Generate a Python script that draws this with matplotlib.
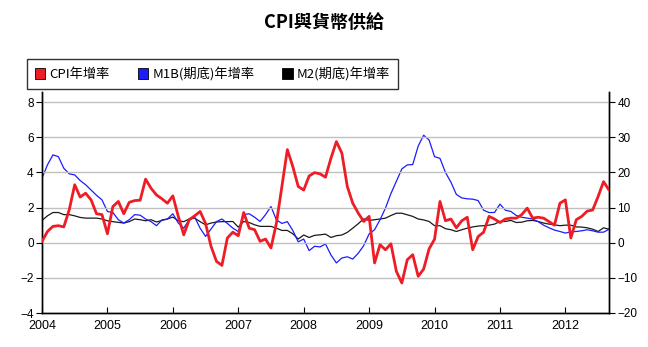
import matplotlib
matplotlib.use("Agg")
import matplotlib.pyplot as plt
from matplotlib.patches import Patch
import numpy as np

plt.rcParams['font.family'] = ['Noto Sans CJK TC', 'DejaVu Sans']

title = "CPI與貨幣供給"
series_names = ["CPI年增率", "M1B(期底)年增率", "M2(期底)年增率"]
start_year = 2004
n_months = 105  # Jan 2004 .. Sep 2012
year_ticks = list(range(2004, 2013))
left_ticks = [-4, -2, 0, 2, 4, 6, 8]
right_ticks = [-20, -10, 0, 10, 20, 30, 40]

# CPI YoY (%) — left axis
cpi = [0.07, 0.64, 0.93, 0.97, 0.9, 1.88, 3.3, 2.6, 2.82, 2.44, 1.65, 1.6,
       0.51, 2.06, 2.35, 1.65, 2.3, 2.4, 2.42, 3.62, 3.1, 2.72, 2.5, 2.25,
       2.67, 1.5, 0.45, 1.31, 1.53, 1.78, 1.1, -0.2, -1.06, -1.29, 0.27, 0.6,
       0.4, 1.72, 0.83, 0.74, 0.08, 0.21, -0.3, 1.12, 3.2, 5.3, 4.34, 3.2,
       3.0, 3.8, 3.99, 3.92, 3.73, 4.81, 5.76, 5.1, 3.2, 2.25, 1.69, 1.21,
       1.5, -1.15, -0.11, -0.4, -0.06, -1.63, -2.29, -0.97, -0.68, -1.91, -1.5, -0.35,
       0.2, 2.35, 1.25, 1.35, 0.85, 1.25, 1.45, -0.4, 0.35, 0.6, 1.5, 1.35,
       1.15, 1.35, 1.4, 1.4, 1.6, 1.97, 1.4, 1.45, 1.4, 1.2, 1.0, 2.25,
       2.44, 0.27, 1.31, 1.5, 1.8, 1.86, 2.63, 3.48, 3.0]

# M1B YoY (%) — right axis
m1b = [18.35, 22.15, 25.0, 24.5, 21.2, 19.6, 19.3, 17.7, 16.5, 15.0, 13.5, 12.2,
       8.9, 8.6, 6.55, 5.6, 6.55, 8.0, 7.85, 6.75, 6.0, 4.85, 6.5, 6.75,
       8.25, 5.6, 4.15, 6.55, 7.3, 4.15, 1.8, 3.9, 6.0, 6.75, 5.5, 4.15,
       3.2, 8.0, 8.25, 7.25, 6.05, 8.0, 10.3, 6.5, 5.5, 6.0, 3.5, 0.25,
       1.05, -2.25, -1.0, -1.2, -0.35, -3.5, -5.75, -4.35, -4.0, -4.65, -3.0, -0.85,
       2.5, 3.7, 6.55, 9.85, 14.0, 17.5, 21.0, 22.15, 22.25, 27.5, 30.6, 29.25,
       24.5, 24.0, 20.0, 17.25, 13.75, 12.75, 12.5, 12.4, 12.0, 9.25, 8.6, 8.6,
       11.0, 9.25, 8.9, 7.75, 7.25, 7.0, 6.75, 6.0, 5.0, 4.25, 3.6, 3.2,
       2.75, 3.1, 3.2, 3.4, 3.7, 3.4, 3.0, 3.0, 3.85]

# M2 YoY (%) — right axis
m2 = [6.35, 7.65, 8.6, 8.6, 8.0, 8.0, 7.65, 7.2, 7.0, 7.0, 7.0, 6.75,
      6.25, 6.0, 5.8, 5.6, 6.0, 6.75, 6.55, 6.25, 6.55, 5.9, 6.35, 6.75,
      7.3, 6.25, 6.0, 6.75, 7.0, 6.0, 5.1, 5.6, 5.9, 6.0, 6.0, 6.05,
      4.45, 6.05, 5.75, 5.1, 4.65, 4.65, 4.65, 4.15, 3.5, 3.5, 2.55, 1.05,
      2.2, 1.5, 2.1, 2.25, 2.45, 1.5, 2.0, 2.2, 2.95, 4.15, 5.4, 6.8,
      6.35, 6.55, 6.75, 7.0, 7.75, 8.4, 8.4, 7.95, 7.5, 6.75, 6.5, 6.05,
      4.85, 4.85, 4.0, 3.7, 3.2, 3.7, 4.15, 4.5, 4.75, 4.85, 5.0, 5.3,
      6.05, 6.05, 6.35, 5.75, 5.85, 6.25, 6.35, 6.05, 5.6, 5.3, 5.1, 4.85,
      5.0, 5.0, 4.5, 4.45, 4.25, 3.85, 3.2, 4.25, 3.85]

x = start_year + np.arange(n_months) / 12.0

fig = plt.figure(figsize=(6.48, 3.47), dpi=100)
ax = fig.add_axes([42/648, 1-313/347, (609-42)/648, (313-92)/347])
ax2 = ax.twinx()

red = "#ee1c25"
blue = "#1c1cff"
black = "#1a1a1a"

ax2.plot(x, m2, color=black, lw=0.9, zorder=2)
ax2.plot(x, m1b, color=blue, lw=0.9, zorder=3)
ax.set_zorder(ax2.get_zorder() + 1)
ax.patch.set_visible(False)
ax.plot(x, cpi, color=red, lw=2.0, solid_joinstyle='round', solid_capstyle='round', zorder=4)

ax.set_xlim(start_year, start_year + (n_months - 1) / 12.0)
ax.set_ylim(-4, 8.58)
ax2.set_ylim(-20, 42.9)
ax.set_yticks(left_ticks)
ax2.set_yticks(right_ticks)
ax.set_xticks(year_ticks)
ax.set_xticklabels([str(y) for y in year_ticks])

for a in (ax, ax2):
    a.spines['top'].set_visible(False)
    for s in ('left', 'right', 'bottom'):
        a.spines[s].set_color('black')
        a.spines[s].set_linewidth(1.0)
    a.tick_params(axis='y', labelsize=8.5, length=4, width=0.8, colors='black', pad=2, direction='out')
    for lab in a.get_yticklabels() + a.get_xticklabels():
        lab.set_family(['Liberation Sans', 'DejaVu Sans'])
ax.tick_params(axis='x', labelsize=9, length=4, width=0.8, colors='black', pad=5, direction='in')

ax.yaxis.grid(True, color='#c0c0c0', lw=1.0)
ax.set_axisbelow(True)

fig.text(0.5, 1 - 22/347, title, ha='center', va='center', fontsize=13, fontweight='bold')

handles = [Patch(facecolor=red, edgecolor='black', lw=0.6),
           Patch(facecolor=blue, edgecolor='black', lw=0.6),
           Patch(facecolor='black', edgecolor='black', lw=0.6)]
leg = fig.legend(handles, series_names, loc='lower left', ncol=3,
                 bbox_to_anchor=(27/648, 1-89/347, (398-27)/648, 38/347),
                 mode='expand', fontsize=9.5, frameon=True, fancybox=False,
                 handlelength=0.8, handleheight=0.8, handletextpad=0.3,
                 columnspacing=0.8, borderaxespad=0, borderpad=0.6)
leg.get_frame().set_edgecolor('black')
leg.get_frame().set_linewidth(1.0)

fig.savefig("out.png", dpi=100)
